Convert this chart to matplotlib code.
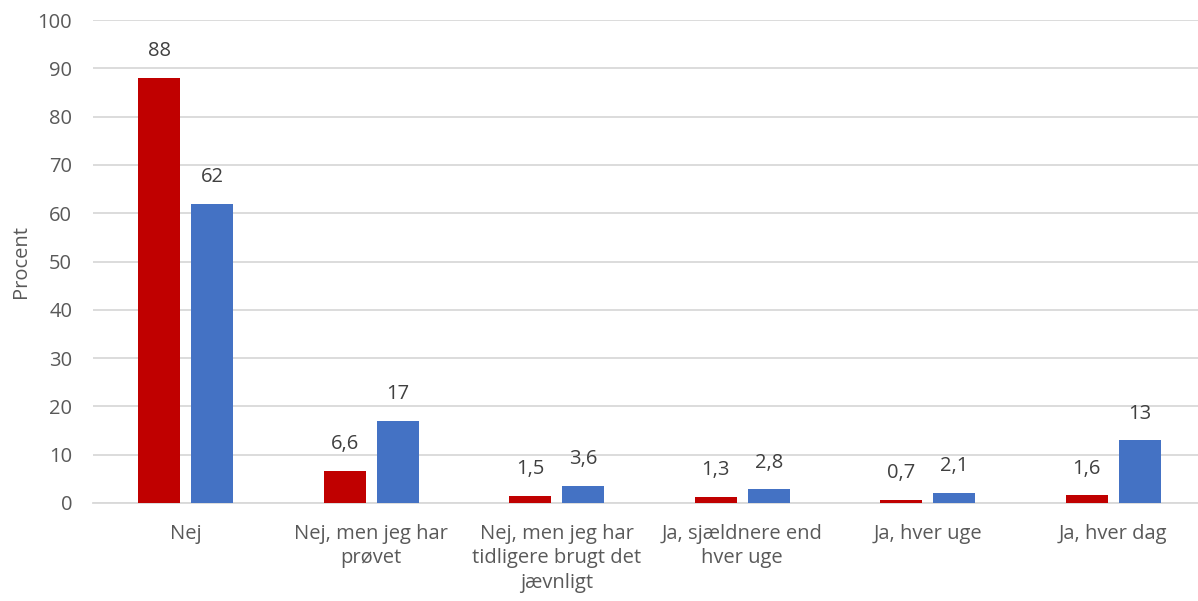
import matplotlib
matplotlib.use("Agg")
import matplotlib.pyplot as plt
import numpy as np

categories = ["Nej", "Nej, men jeg har\nprøvet", "Nej, men jeg har\ntidligere brugt det\njævnligt",
              "Ja, sjældnere end\nhver uge", "Ja, hver uge", "Ja, hver dag"]
series_red = [88, 6.6, 1.5, 1.3, 0.7, 1.6]
series_blue = [62, 17, 3.6, 2.8, 2.1, 13]
y_ticks = [0, 10, 20, 30, 40, 50, 60, 70, 80, 90, 100]

plt.rcParams['font.family'] = ['Open Sans', 'DejaVu Sans']
txt = '#595959'
fs = 14.5

fig = plt.figure(figsize=(11.98, 6.01), dpi=100)
ax = fig.add_axes([93/1198, 98/601, 1 - 93/1198, 483/601])

x = np.arange(len(categories))
w = 0.226
off = 0.143
ax.bar(x - off, series_red, width=w, color='#C00000', zorder=3)
ax.bar(x + off, series_blue, width=w, color='#4472C4', zorder=3)

def fmt(v):
    s = f"{v:g}"
    return s.replace('.', ',')

for xi, v in zip(x - off, series_red):
    ax.annotate(fmt(v), (xi, v), xytext=(0, 12), textcoords='offset points',
                ha='center', va='bottom', fontsize=fs, color='#404040')
for xi, v in zip(x + off, series_blue):
    ax.annotate(fmt(v), (xi, v), xytext=(0, 12), textcoords='offset points',
                ha='center', va='bottom', fontsize=fs, color='#404040')

ax.set_xlim(-0.5, 5.457)
ax.set_ylim(0, 100)
ax.set_yticks(y_ticks)
ax.set_yticklabels([str(t) for t in y_ticks], fontsize=fs, color=txt)
ax.set_xticks(x)
ax.set_xticklabels(categories, fontsize=fs, color=txt, linespacing=1.3)
ax.tick_params(axis='both', length=0)
ax.tick_params(axis='x', pad=15)
ax.tick_params(axis='y', pad=15)
ax.yaxis.grid(True, color='#D9D9D9', linewidth=1.3, zorder=0)
for s in ['top', 'right', 'left']:
    ax.spines[s].set_visible(False)
ax.spines['bottom'].set_color('#D9D9D9')
ax.spines['bottom'].set_linewidth(1.3)
ax.set_ylabel('Procent', fontsize=fs, color=txt, labelpad=5)

fig.savefig('out.png', dpi=100)
